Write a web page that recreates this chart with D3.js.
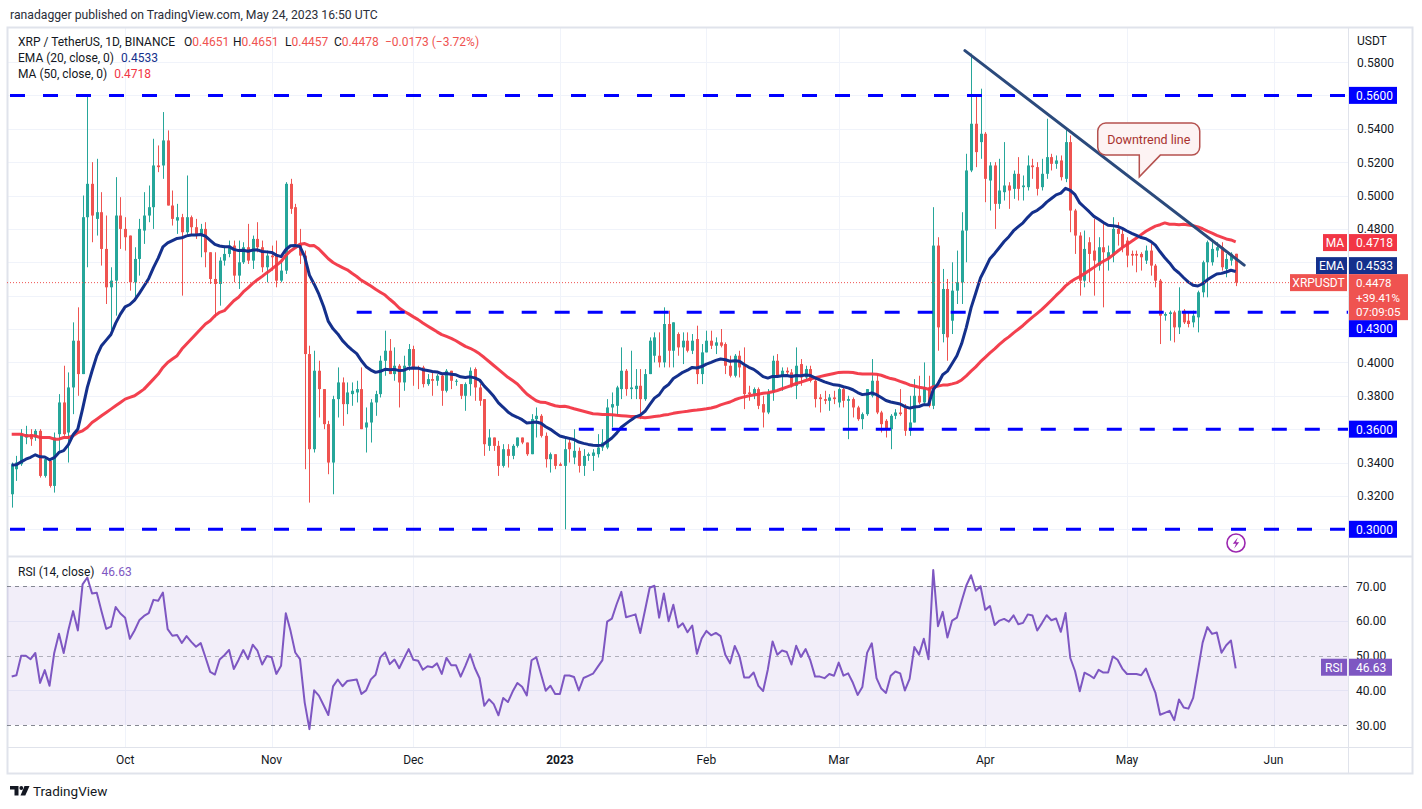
<!DOCTYPE html>
<html><head><meta charset="utf-8">
<script src="https://cdn.jsdelivr.net/npm/d3@7"></script>
<style>
html,body{margin:0;padding:0;background:#fff;}
svg{display:block;font-family:Roboto,"Noto Sans",sans-serif;}
</style></head><body>
<svg id="chart" width="1422" height="809"></svg>
<script>
// ---------------- DATA ----------------
const startDate = "2022-09-07";
const opens = [
0.321,0.336,0.339,0.355,0.357,0.355,0.359,0.332,0.341,0.326,
0.357,0.376,0.358,0.385,0.413,0.393,0.487,0.507,0.486,0.490,
0.468,0.445,0.449,0.488,0.480,0.476,0.448,0.462,0.479,0.488,
0.493,0.518,0.518,0.533,0.494,0.485,0.487,0.478,0.487,0.481,
0.476,0.480,0.466,0.450,0.447,0.461,0.465,0.470,0.452,0.460,
0.469,0.461,0.474,0.469,0.457,0.464,0.464,0.449,0.455,0.507,
0.493,0.471,0.464,0.405,0.348,0.395,0.384,0.363,0.340,0.378,
0.388,0.375,0.381,0.382,0.384,0.361,0.364,0.376,0.381,0.401,
0.407,0.393,0.398,0.388,0.398,0.408,0.397,0.397,0.387,0.390,
0.389,0.392,0.383,0.395,0.389,0.387,0.380,0.387,0.396,0.385,
0.378,0.350,0.355,0.350,0.338,0.348,0.344,0.350,0.355,0.352,
0.345,0.366,0.368,0.356,0.342,0.345,0.339,0.338,0.352,0.343,
0.347,0.338,0.344,0.344,0.345,0.349,0.349,0.373,0.374,0.384,
0.395,0.384,0.384,0.386,0.378,0.393,0.404,0.404,0.400,0.423,
0.407,0.417,0.409,0.413,0.407,0.414,0.393,0.406,0.413,0.410,
0.412,0.411,0.398,0.392,0.404,0.398,0.382,0.381,0.384,0.375,
0.370,0.382,0.401,0.392,0.395,0.394,0.386,0.399,0.391,0.396,
0.389,0.379,0.378,0.377,0.379,0.376,0.384,0.377,0.378,0.373,
0.366,0.369,0.380,0.389,0.370,0.365,0.360,0.368,0.370,0.373,
0.359,0.364,0.380,0.376,0.385,0.374,0.470,0.417,0.444,0.425,
0.443,0.448,0.479,0.515,0.543,0.532,0.537,0.509,0.518,0.495,
0.502,0.506,0.504,0.513,0.505,0.505,0.518,0.517,0.505,0.513,
0.523,0.519,0.521,0.510,0.532,0.491,0.476,0.449,0.472,0.467,
0.458,0.469,0.462,0.464,0.480,0.477,0.473,0.465,0.465,0.465,
0.461,0.467,0.458,0.449,0.428,0.429,0.430,0.421,0.431,0.425,
0.424,0.427,0.442,0.460,0.460,0.467,0.469,0.456,0.461,0.4651];
const highs = [
0.340,0.344,0.360,0.362,0.360,0.360,0.360,0.343,0.342,0.358,
0.381,0.398,0.394,0.424,0.433,0.500,0.560,0.520,0.522,0.502,
0.488,0.457,0.511,0.499,0.487,0.476,0.469,0.486,0.502,0.506,
0.534,0.530,0.550,0.539,0.503,0.495,0.489,0.512,0.488,0.486,
0.483,0.484,0.466,0.466,0.463,0.470,0.473,0.473,0.473,0.472,
0.483,0.476,0.484,0.473,0.467,0.470,0.473,0.460,0.508,0.510,
0.495,0.480,0.467,0.410,0.407,0.401,0.384,0.365,0.380,0.397,
0.391,0.388,0.388,0.389,0.397,0.373,0.378,0.383,0.404,0.419,
0.414,0.409,0.399,0.404,0.411,0.410,0.398,0.398,0.393,0.395,
0.393,0.393,0.396,0.395,0.390,0.387,0.388,0.397,0.397,0.387,
0.378,0.360,0.355,0.353,0.351,0.351,0.351,0.355,0.355,0.352,
0.369,0.373,0.369,0.358,0.346,0.345,0.340,0.355,0.355,0.360,
0.349,0.348,0.346,0.348,0.357,0.360,0.378,0.382,0.386,0.409,
0.396,0.407,0.396,0.396,0.396,0.415,0.418,0.418,0.433,0.431,
0.424,0.418,0.418,0.418,0.417,0.422,0.411,0.419,0.419,0.415,
0.420,0.412,0.404,0.405,0.407,0.409,0.386,0.385,0.385,0.380,
0.384,0.404,0.405,0.397,0.397,0.396,0.409,0.402,0.398,0.398,
0.390,0.381,0.383,0.381,0.383,0.385,0.385,0.380,0.379,0.374,
0.370,0.384,0.402,0.393,0.371,0.366,0.369,0.372,0.384,0.375,
0.380,0.390,0.392,0.400,0.392,0.493,0.475,0.456,0.450,0.460,
0.467,0.490,0.525,0.585,0.560,0.564,0.538,0.520,0.520,0.522,
0.532,0.508,0.515,0.523,0.512,0.524,0.522,0.520,0.522,0.546,
0.525,0.524,0.524,0.540,0.536,0.492,0.478,0.479,0.475,0.486,
0.475,0.483,0.470,0.487,0.484,0.480,0.475,0.467,0.467,0.466,
0.470,0.471,0.459,0.450,0.430,0.431,0.431,0.445,0.432,0.430,
0.431,0.443,0.461,0.473,0.474,0.472,0.472,0.465,0.466,0.4651];
const lows = [
0.313,0.329,0.338,0.351,0.350,0.353,0.331,0.331,0.325,0.322,
0.347,0.356,0.340,0.369,0.380,0.393,0.457,0.472,0.476,0.458,
0.435,0.419,0.428,0.468,0.467,0.443,0.438,0.452,0.471,0.484,
0.480,0.514,0.510,0.494,0.482,0.477,0.440,0.476,0.476,0.474,
0.463,0.457,0.447,0.427,0.434,0.458,0.463,0.448,0.444,0.459,
0.459,0.456,0.466,0.454,0.448,0.455,0.445,0.448,0.453,0.489,
0.470,0.459,0.336,0.316,0.346,0.367,0.360,0.333,0.321,0.367,
0.362,0.369,0.374,0.376,0.360,0.346,0.352,0.368,0.379,0.392,
0.393,0.389,0.373,0.383,0.395,0.386,0.384,0.385,0.386,0.380,
0.386,0.374,0.382,0.384,0.386,0.378,0.371,0.380,0.377,0.374,
0.344,0.347,0.347,0.332,0.337,0.337,0.342,0.349,0.351,0.344,
0.345,0.355,0.355,0.337,0.334,0.336,0.338,0.300,0.340,0.339,
0.334,0.332,0.341,0.335,0.343,0.347,0.348,0.361,0.368,0.378,
0.380,0.378,0.378,0.366,0.377,0.393,0.400,0.397,0.397,0.397,
0.397,0.404,0.399,0.406,0.405,0.387,0.387,0.406,0.408,0.405,
0.409,0.393,0.391,0.391,0.391,0.372,0.377,0.378,0.372,0.361,
0.369,0.377,0.391,0.383,0.393,0.385,0.378,0.386,0.390,0.388,
0.373,0.370,0.375,0.371,0.375,0.373,0.373,0.354,0.367,0.365,
0.360,0.368,0.379,0.369,0.358,0.355,0.348,0.366,0.368,0.356,
0.356,0.364,0.375,0.374,0.373,0.372,0.407,0.412,0.401,0.417,
0.435,0.435,0.460,0.514,0.517,0.522,0.496,0.491,0.480,0.492,
0.497,0.492,0.498,0.497,0.497,0.503,0.510,0.500,0.503,0.510,
0.515,0.516,0.509,0.508,0.478,0.465,0.440,0.445,0.448,0.440,
0.455,0.433,0.455,0.460,0.470,0.466,0.457,0.458,0.454,0.455,
0.459,0.452,0.445,0.411,0.425,0.413,0.412,0.417,0.423,0.421,
0.421,0.418,0.439,0.439,0.458,0.463,0.455,0.451,0.458,0.4457];
const closes = [
0.339,0.340,0.357,0.357,0.354,0.359,0.332,0.342,0.326,0.355,
0.376,0.357,0.385,0.413,0.393,0.487,0.507,0.488,0.490,0.468,
0.445,0.449,0.488,0.480,0.475,0.448,0.462,0.480,0.488,0.493,
0.518,0.517,0.533,0.494,0.486,0.487,0.478,0.487,0.481,0.476,
0.480,0.466,0.450,0.447,0.461,0.465,0.470,0.452,0.460,0.469,
0.461,0.474,0.469,0.457,0.464,0.463,0.449,0.455,0.507,0.492,
0.471,0.464,0.405,0.348,0.395,0.384,0.363,0.340,0.378,0.388,
0.375,0.382,0.383,0.384,0.360,0.364,0.376,0.381,0.401,0.407,
0.393,0.398,0.388,0.398,0.408,0.397,0.396,0.387,0.390,0.389,
0.392,0.383,0.395,0.389,0.389,0.380,0.387,0.395,0.385,0.377,
0.351,0.355,0.350,0.338,0.348,0.344,0.350,0.355,0.352,0.345,
0.366,0.368,0.356,0.342,0.345,0.338,0.338,0.348,0.348,0.347,
0.338,0.344,0.345,0.346,0.349,0.352,0.373,0.375,0.385,0.395,
0.384,0.385,0.386,0.378,0.393,0.413,0.415,0.400,0.423,0.407,
0.424,0.409,0.413,0.407,0.413,0.393,0.406,0.413,0.410,0.412,
0.410,0.398,0.392,0.404,0.397,0.381,0.381,0.384,0.374,0.370,
0.382,0.401,0.392,0.395,0.394,0.386,0.398,0.391,0.396,0.389,
0.378,0.378,0.377,0.379,0.378,0.384,0.377,0.378,0.373,0.366,
0.369,0.384,0.389,0.370,0.363,0.360,0.368,0.370,0.369,0.359,
0.364,0.380,0.376,0.385,0.374,0.470,0.421,0.444,0.415,0.443,
0.448,0.479,0.515,0.543,0.526,0.537,0.510,0.518,0.495,0.503,
0.506,0.503,0.513,0.504,0.506,0.518,0.517,0.504,0.513,0.523,
0.519,0.521,0.511,0.532,0.491,0.476,0.449,0.468,0.465,0.461,
0.469,0.466,0.466,0.480,0.477,0.469,0.464,0.464,0.464,0.463,
0.467,0.458,0.449,0.428,0.429,0.430,0.421,0.431,0.424,0.423,
0.428,0.442,0.460,0.472,0.468,0.469,0.457,0.462,0.4651,0.4478];
// MA(50) for the first 49 sessions (its window reaches before the first visible candle)
const maLead = [
0.357,0.357,0.357,0.356,0.356,0.356,0.355,0.355,0.355,0.354,
0.354,0.355,0.355,0.356,0.358,0.359,0.361,0.364,0.366,0.368,
0.370,0.372,0.374,0.376,0.378,0.379,0.380,0.382,0.384,0.387,
0.390,0.393,0.397,0.400,0.402,0.404,0.408,0.411,0.414,0.417,
0.420,0.423,0.425,0.428,0.430,0.431,0.434,0.437,0.439];
const emaSeed = 0.3385;                    // EMA(20) value before first visible candle
const rsiSeed = {prevClose:0.321, avgGain:0.0045, avgLoss:0.0075};
const emaLast = 0.4533, maLast = 0.4718, rsiLast = 46.63;
const changePctSinceLow = "+39.41%", countdown = "07:09:05";
const levels = [0.56, 0.43, 0.36, 0.30];
const levelStarts = [null, "2022-11-19", "2023-01-05", null];
const trendLine = [{day:201.7, price:0.5868}, {day:260.8, price:0.4583}];
const callout = {text:"Downtrend line", day:240.6, price:0.5338, tipDay:238.6, tipPrice:0.5112};
const priceTicks = [0.30,0.32,0.34,0.36,0.38,0.40,0.42,0.44,0.46,0.48,0.50,0.52,0.54,0.56,0.58];
const rsiTicks = [30,40,50,60,70];
const monthLabels = ["Oct","Nov","Dec","2023","Feb","Mar","Apr","May","Jun"];
const headerText = "ranadagger published on TradingView.com, May 24, 2023 16:50 UTC";
const symbolText = "XRP / TetherUS, 1D, BINANCE";

// ---------------- LAYOUT ----------------
const UP = "#26a69a", DOWN = "#ef5350", LEVEL = "#0000ff", EMAC = "#14308c", MAC = "#f23645", RSIC = "#7e57c2";
const GRID = "#f0f3fa", BORDER = "#e0e3eb", TXT = "#131722";
const L = {left:7, right:1348, axisRight:1412, top:27, priceBottom:556, rsiBottom:747, bottom:773};
const svg = d3.select("#chart");
const fmt4 = d3.format(".4f");

const t0 = d3.utcParse("%Y-%m-%d")(startDate);
const days = closes.map((_, i) => d3.utcDay.offset(t0, i));
const dayAt = f => new Date(t0.getTime() + f * 864e5);
const x = d3.scaleUtc().domain([days[0], days[days.length - 1]]).range([11.7, 1235.7]);
const y = d3.scaleLinear().domain([0.30, 0.58]).range([529.3, 62]);
const yr = d3.scaleLinear().domain([30, 70]).range([725, 586]);

// indicators
const k = 2 / 21;
let e = emaSeed;
const ema = closes.map(c => (e = e + k * (c - e)));
const ma = closes.map((c, i) => i < 49 ? maLead[i] : d3.mean(closes.slice(i - 49, i + 1)));
let ag = rsiSeed.avgGain, al = rsiSeed.avgLoss, pc = rsiSeed.prevClose;
const rsi = closes.map(c => { const ch = c - pc; pc = c;
  ag = (ag * 13 + Math.max(ch, 0)) / 14; al = (al * 13 + Math.max(-ch, 0)) / 14;
  return 100 - 100 / (1 + ag / al); });

// background
svg.append("rect").attr("width", 1422).attr("height", 809).attr("fill", "#fff");

// header
svg.append("text").attr("x", 10).attr("y", 19).attr("font-size", 12.2).attr("fill", "#2a2e39").text(headerText);

const defs = svg.append("defs");
defs.append("clipPath").attr("id", "cp").append("rect")
  .attr("x", L.left).attr("y", L.top).attr("width", L.right - L.left).attr("height", L.priceBottom - L.top);
defs.append("clipPath").attr("id", "cr").append("rect")
  .attr("x", L.left).attr("y", L.priceBottom).attr("width", L.right - L.left).attr("height", L.rsiBottom - L.priceBottom);

// grid
const months = d3.utcMonth.range(d3.utcMonth.ceil(days[0]), d3.utcMonth.offset(d3.utcMonth.floor(days[days.length - 1]), 2));
const grid = svg.append("g").attr("stroke", GRID).attr("stroke-width", 1);
grid.selectAll(".vg").data(months).join("line")
  .attr("x1", d => Math.round(x(d)) + 0.5).attr("x2", d => Math.round(x(d)) + 0.5)
  .attr("y1", L.top).attr("y2", L.rsiBottom);
grid.selectAll(".hg").data(priceTicks).join("line")
  .attr("x1", L.left).attr("x2", L.right)
  .attr("y1", d => Math.round(y(d)) + 0.5).attr("y2", d => Math.round(y(d)) + 0.5);
grid.selectAll(".rg").data([40, 60]).join("line")
  .attr("x1", L.left).attr("x2", L.right)
  .attr("y1", d => Math.round(yr(d)) + 0.5).attr("y2", d => Math.round(yr(d)) + 0.5);

// frame
const frame = svg.append("g").attr("stroke", BORDER).attr("fill", "none");
frame.append("rect").attr("x", L.left + 0.5).attr("y", L.top + 0.5).attr("width", L.axisRight - L.left).attr("height", L.bottom - L.top).attr("stroke-width", 2);
frame.append("line").attr("x1", L.right + 0.5).attr("x2", L.right + 0.5).attr("y1", L.top).attr("y2", L.bottom);
frame.append("line").attr("x1", L.left).attr("x2", L.axisRight).attr("y1", L.priceBottom + 0.5).attr("y2", L.priceBottom + 0.5).attr("stroke-width", 2);
frame.append("line").attr("x1", L.left).attr("x2", L.axisRight).attr("y1", L.rsiBottom + 0.5).attr("y2", L.rsiBottom + 0.5);

// ---------------- PRICE PANE ----------------
const pane = svg.append("g").attr("clip-path", "url(#cp)");
const candles = closes.map((c, i) => ({d: days[i], o: opens[i], c,
  h: Math.max(highs[i], opens[i], c), l: Math.min(lows[i], opens[i], c)}));
const cx = d => Math.round(x(d.d)) + 0.5;
pane.append("g").selectAll("line").data(candles).join("line")
  .attr("x1", cx).attr("x2", cx).attr("y1", d => y(d.h)).attr("y2", d => y(d.l))
  .attr("stroke", d => d.c >= d.o ? UP : DOWN).attr("stroke-width", 1);
pane.append("g").selectAll("rect").data(candles).join("rect")
  .attr("x", d => cx(d) - 1.5).attr("width", 3)
  .attr("y", d => y(Math.max(d.o, d.c)))
  .attr("height", d => Math.max(1, Math.abs(y(d.o) - y(d.c))))
  .attr("fill", d => d.c >= d.o ? UP : DOWN);

const line = d3.line().x((d, i) => x(days[i])).y(d => y(d));
pane.append("path").attr("d", line(ma)).attr("fill", "none").attr("stroke", MAC).attr("stroke-width", 3).attr("stroke-linejoin", "round").attr("opacity", 0.95);
pane.append("path").attr("d", line(ema)).attr("fill", "none").attr("stroke", EMAC).attr("stroke-width", 3).attr("stroke-linejoin", "round");

// horizontal levels
pane.append("g").selectAll("line").data(levels).join("line")
  .attr("x1", (v, i) => levelStarts[i] ? x(d3.utcParse("%Y-%m-%d")(levelStarts[i])) : L.left + 3)
  .attr("x2", L.right)
  .attr("y1", v => y(v)).attr("y2", v => y(v))
  .attr("stroke", LEVEL).attr("stroke-width", 3).attr("stroke-dasharray", "15,18");

// last price dotted line
pane.append("line").attr("x1", L.left).attr("x2", L.right)
  .attr("y1", y(closes[closes.length - 1])).attr("y2", y(closes[closes.length - 1]))
  .attr("stroke", DOWN).attr("stroke-width", 1).attr("stroke-dasharray", "1,2");

// trend line
pane.append("line")
  .attr("x1", x(dayAt(trendLine[0].day))).attr("y1", y(trendLine[0].price))
  .attr("x2", x(dayAt(trendLine[1].day))).attr("y2", y(trendLine[1].price))
  .attr("stroke", "#2b4a7c").attr("stroke-width", 3).attr("stroke-linecap", "round");

// callout
{
  const ccx = x(dayAt(callout.day)), ccy = y(callout.price);
  const tx = x(dayAt(callout.tipDay)), ty = y(callout.tipPrice);
  const w = 102, h = 32, r = 8;
  const x0 = ccx - w / 2, y0 = ccy - h / 2, x1 = x0 + w, y1 = y0 + h;
  const p = d3.path();
  p.moveTo(x0 + r, y0); p.lineTo(x1 - r, y0); p.arcTo(x1, y0, x1, y0 + r, r);
  p.lineTo(x1, y1 - r); p.arcTo(x1, y1, x1 - r, y1, r);
  p.lineTo(tx + 21, y1); p.lineTo(tx, ty); p.lineTo(tx, y1);
  p.lineTo(x0 + r, y1); p.arcTo(x0, y1, x0, y1 - r, r);
  p.lineTo(x0, y0 + r); p.arcTo(x0, y0, x0 + r, y0, r); p.closePath();
  svg.append("path").attr("d", p.toString()).attr("fill", "#fdf3f3").attr("stroke", "#b5524f").attr("stroke-width", 1.5);
  svg.append("text").attr("x", ccx).attr("y", ccy + 4.5).attr("text-anchor", "middle")
    .attr("font-size", 12.5).attr("fill", "#a8322f").text(callout.text);
}

// lightning icon
{
  const g = svg.append("g").attr("transform", "translate(1236,543)");
  g.append("circle").attr("r", 9).attr("fill", "#fff").attr("stroke", "#9c27b0").attr("stroke-width", 1.6);
  g.append("path").attr("d", "M1.8,-5.5 L-3.2,0.8 L0,0.8 L-1.8,5.5 L3.2,-0.8 L0,-0.8 Z").attr("fill", "#9c27b0");
}

// legend
{
  const g = svg.append("g").attr("font-size", 12);
  const t1 = g.append("text").attr("y", 46).attr("fill", TXT);
  const last = closes.length - 1;
  const chg = closes[last] - closes[last - 1];
  t1.append("tspan").attr("x", 18).text(symbolText);
  const seg = [["O", opens[last], 184], ["H", highs[last], 233], ["L", lows[last], 285], ["C", closes[last], 334]];
  seg.forEach(([lab, v, px]) => {
    t1.append("tspan").attr("x", px).text(lab);
    t1.append("tspan").attr("fill", DOWN).text(fmt4(v));
  });
  t1.append("tspan").attr("x", 385).attr("fill", DOWN)
    .text(fmt4(chg).replace("-", "\u2212") + " (" + d3.format(".2f")(chg / closes[last - 1] * 100).replace("-", "\u2212") + "%)");
  const t2 = g.append("text").attr("x", 18).attr("y", 62).attr("fill", TXT);
  t2.append("tspan").text("EMA (20, close, 0)");
  t2.append("tspan").attr("dx", 7).attr("fill", EMAC).text(fmt4(emaLast));
  const t3 = g.append("text").attr("x", 18).attr("y", 78).attr("fill", TXT);
  t3.append("tspan").text("MA (50, close, 0)");
  t3.append("tspan").attr("dx", 7).attr("fill", MAC).text(fmt4(maLast));
}

// ---------------- RSI PANE ----------------
const rp = svg.append("g").attr("clip-path", "url(#cr)");
rp.append("rect").attr("x", L.left).attr("width", L.right - L.left)
  .attr("y", yr(70)).attr("height", yr(30) - yr(70)).attr("fill", RSIC).attr("fill-opacity", 0.1);
rp.append("g").selectAll("line").data([70, 50, 30]).join("line")
  .attr("x1", L.left).attr("x2", L.right)
  .attr("y1", d => Math.round(yr(d)) + 0.5).attr("y2", d => Math.round(yr(d)) + 0.5)
  .attr("stroke", "#787b86").attr("stroke-opacity", d => d === 50 ? 0.55 : 0.9)
  .attr("stroke-dasharray", "4,4");
rp.append("path").attr("d", d3.line().x((d, i) => x(days[i])).y(d => yr(d))(rsi))
  .attr("fill", "none").attr("stroke", RSIC).attr("stroke-width", 2).attr("stroke-linejoin", "round");
{
  const t = svg.append("text").attr("x", 18).attr("y", 576).attr("font-size", 12).attr("fill", TXT);
  t.append("tspan").text("RSI (14, close)");
  t.append("tspan").attr("dx", 7).attr("fill", RSIC).text(d3.format(".2f")(rsiLast));
}

// ---------------- AXES + LABEL BOXES ----------------
const lastPx = y(closes[closes.length - 1]);
const lastBox = {top: lastPx - 8.5, h: 46};
const place = cy => {
  let top = cy - 8.5;
  if (top < lastBox.top + lastBox.h && top + 17 > lastBox.top) top = cy < lastPx ? lastBox.top - 17 : lastBox.top + lastBox.h;
  return top;
};
const boxes = levels.map(v => ({top: place(y(v)), fill: LEVEL, text: fmt4(v)}));
boxes.push({top: place(y(maLast)), fill: MAC, text: fmt4(maLast), tag: "MA", tw: 24});
boxes.push({top: place(y(emaLast)), fill: EMAC, text: fmt4(emaLast), tag: "EMA", tw: 31});
const covered = [...boxes.map(b => [b.top, b.top + 17]), [lastBox.top, lastBox.top + lastBox.h]];
const isHidden = yy => covered.some(([a, b]) => yy + 5 > a && yy - 5 < b);

const ax = svg.append("g").attr("font-size", 12).attr("fill", TXT);
ax.append("text").attr("x", 1357).attr("y", 45).text("USDT");
ax.selectAll(".pt").data(priceTicks.filter(d => !isHidden(y(d)))).join("text")
  .attr("x", 1357).attr("y", d => y(d) + 4.5).text(d => fmt4(d));
ax.selectAll(".rt").data(rsiTicks).join("text")
  .attr("x", 1356).attr("y", d => yr(d) + 4.5).text(d => d3.format(".2f")(d));
ax.selectAll(".mt").data(months).join("text")
  .attr("x", d => x(d)).attr("y", 764).attr("text-anchor", "middle")
  .attr("font-weight", (d, i) => monthLabels[i] === "2023" ? "bold" : "normal")
  .text((d, i) => monthLabels[i]);

{
  const bg = svg.append("g").attr("font-size", 12);
  boxes.forEach(b => {
    bg.append("rect").attr("x", L.right + 1).attr("y", b.top).attr("width", 48).attr("height", 17).attr("fill", b.fill);
    bg.append("text").attr("x", 1356).attr("y", b.top + 13).attr("fill", "#fff").text(b.text);
    if (b.tag) {
      bg.append("rect").attr("x", L.right - 1 - b.tw).attr("y", b.top).attr("width", b.tw).attr("height", 17).attr("fill", b.fill);
      bg.append("text").attr("x", L.right - 1 - b.tw / 2).attr("y", b.top + 13).attr("text-anchor", "middle").attr("fill", "#fff").text(b.tag);
    }
  });
  bg.append("rect").attr("x", L.right + 1).attr("y", lastBox.top).attr("width", 59).attr("height", lastBox.h).attr("fill", DOWN);
  [fmt4(closes[closes.length - 1]), changePctSinceLow, countdown].forEach((s, i) =>
    bg.append("text").attr("x", 1356).attr("y", lastBox.top + 13 + i * 14.5).attr("font-size", 11.5).attr("fill", "#fff").text(s));
  bg.append("rect").attr("x", L.right - 58).attr("y", lastBox.top).attr("width", 57).attr("height", 17).attr("fill", DOWN);
  bg.append("text").attr("x", L.right - 29.5).attr("y", lastBox.top + 13).attr("text-anchor", "middle").attr("fill", "#fff").text("XRPUSDT");
  // RSI label
  const ry = yr(rsiLast);
  bg.append("rect").attr("x", L.right + 1).attr("y", ry - 8.5).attr("width", 43).attr("height", 17).attr("fill", RSIC);
  bg.append("text").attr("x", 1356).attr("y", ry + 4.5).attr("fill", "#fff").text(d3.format(".2f")(rsiLast));
  bg.append("rect").attr("x", L.right - 27).attr("y", ry - 8.5).attr("width", 26).attr("height", 17).attr("fill", RSIC);
  bg.append("text").attr("x", L.right - 14).attr("y", ry + 4.5).attr("text-anchor", "middle").attr("fill", "#fff").text("RSI");
}

// footer logo
{
  const g = svg.append("g").attr("fill", TXT);
  g.append("path").attr("d", "M10,786 h8.5 v9.5 h-4 v-6 h-4.5 z");
  g.append("circle").attr("cx", 21.3).attr("cy", 788).attr("r", 1.9);
  g.append("path").attr("d", "M24.5,786 h5 l-4.2,9.5 h-4.8 z");
  g.append("text").attr("x", 33).attr("y", 796).attr("font-size", 13.5).text("TradingView");
}
</script>
</body></html>
